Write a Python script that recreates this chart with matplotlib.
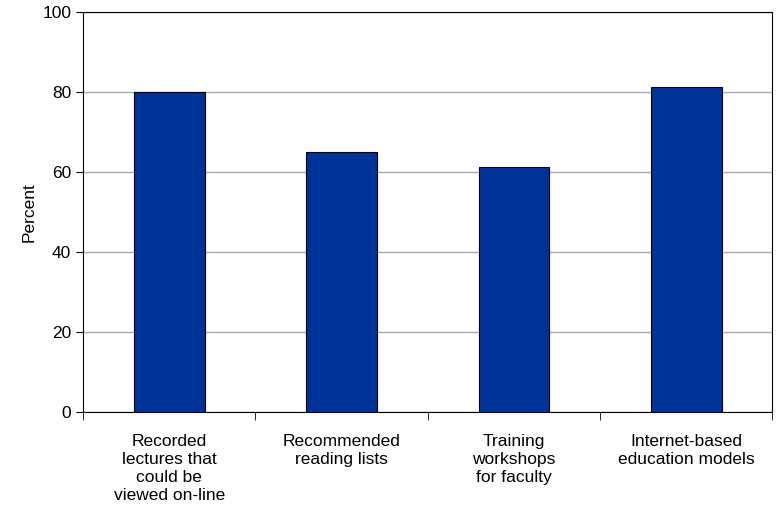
import matplotlib
matplotlib.use("Agg")
import matplotlib.pyplot as plt
import numpy as np

categories = ["Recorded\nlectures that\ncould be\nviewed on-line", "Recommended\nreading lists",
              "Training\nworkshops\nfor faculty", "Internet-based\neducation models"]
values = [80, 65, 61.3, 81.3]

plt.rcParams['font.family'] = ['Liberation Sans', 'DejaVu Sans']
fig = plt.figure(figsize=(7.77, 5.3), dpi=100)
ax = fig.add_axes([0.107, 0.223, 0.887, 0.754])
x = np.arange(len(categories))
ax.bar(x, values, width=0.41, color="#003399", edgecolor="black", linewidth=0.8, zorder=3)
ax.set_xlim(-0.5, len(categories) - 0.5)
ax.set_ylim(0, 100)
ax.set_yticks(range(0, 101, 20))
ax.yaxis.grid(True, color="#aaaaaa", linewidth=1, zorder=0)
ax.set_xticks(x)
ax.set_xticklabels(categories, fontsize=12.5, linespacing=1.25)
ax.set_xticks(np.arange(-0.5, len(categories)), minor=True)
ax.tick_params(axis='x', which='major', length=0, pad=16)
ax.tick_params(axis='x', which='minor', length=6, direction='out')
ax.tick_params(axis='y', labelsize=12.5, length=5, direction='out')
ax.set_ylabel("Percent", fontsize=12.5)
for s in ax.spines.values():
    s.set_color("black")
fig.savefig("out.png", dpi=100)
